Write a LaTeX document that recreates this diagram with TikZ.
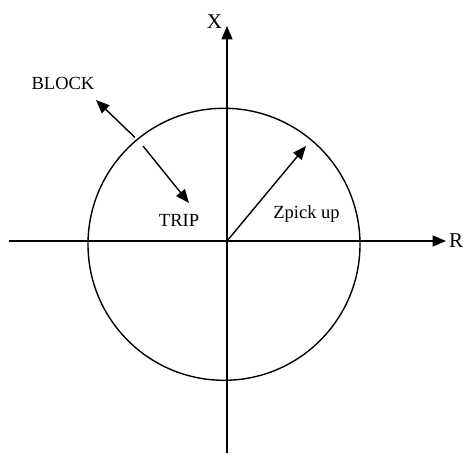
\documentclass[tikz,border=0pt]{standalone}
\usepackage{fontspec}
\setmainfont{Liberation Serif}
\usetikzlibrary{arrows.meta}
\begin{document}
\begin{tikzpicture}[x=1pt,y=-1pt,
  ln/.style={line width=1.4pt},
  arr/.style={ln,-{Triangle[length=13.5pt,width=11pt]}},
  lbl/.style={inner sep=0pt,font=\fontsize{18.5}{20}\selectfont},
  axlbl/.style={inner sep=0pt,font=\fontsize{21}{23}\selectfont}]
\useasboundingbox (0,0) rectangle (463,454);
% axes
\coordinate (xbot) at (227,453);
\coordinate (xtop) at (227,26);
\coordinate (rleft) at (9,241);
\coordinate (rright) at (446,241);
\coordinate (O) at (227,241);
\draw[arr] (xbot) -- (xtop);
\draw[arr] (rleft) -- (rright);
\node[axlbl] (X) at (214.5,22) {X};
\node[axlbl,anchor=west] (R) at (449,241) {R};
% circle
\coordinate (C) at (224,244.3);
\draw[ln] (C) circle (136);
% Zpick up
\coordinate (Z) at (306,146);
\draw[arr] (O) -- (Z);
\node[lbl] (zl) at (306.5,214) {Zpick up};
% BLOCK / TRIP
\coordinate (b1) at (135,137.5);
\coordinate (bt) at (96,100);
\coordinate (t1) at (143,146);
\coordinate (tt) at (189,203);
\draw[arr] (b1) -- (bt);
\draw[arr] (t1) -- (tt);
\node[lbl] (block) at (63,83) {BLOCK};
\node[lbl] (trip) at (179,220) {TRIP};
\end{tikzpicture}
\end{document}
